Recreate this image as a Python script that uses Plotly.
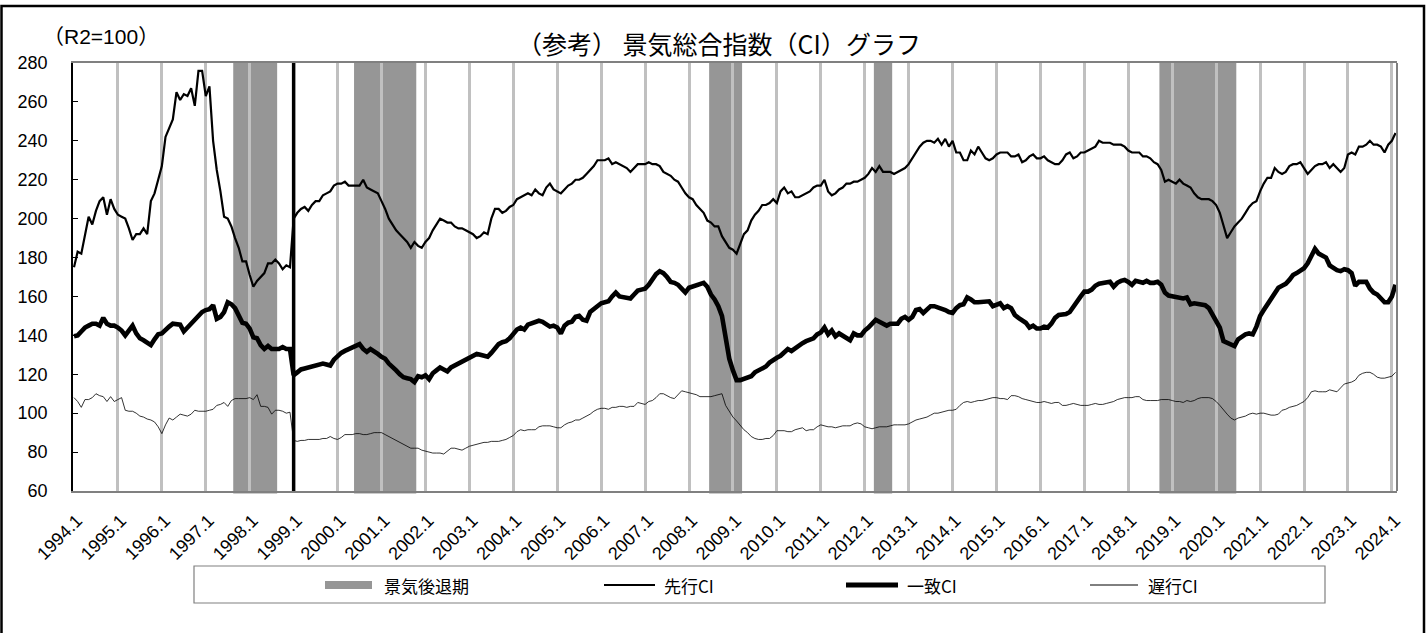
import plotly.graph_objects as go

# ---------------- data (monthly, 1994.1 - 2024.2) ----------------
leading_ci = [
    175, 183, 182, 192, 201, 197, 204, 209, 211, 202, 210, 205,   # 1994
    202, 201, 200, 195, 189, 192, 192, 195, 192, 209, 213, 220,   # 1995
    227, 242, 247, 251, 265, 261, 264, 263, 267, 258, 276, 276,   # 1996
    263, 268, 240, 225, 214, 201, 200, 196, 190, 185, 178, 178,   # 1997
    171, 165, 168, 170, 172, 177, 177, 179, 177, 174, 176, 175,   # 1998
    200, 203, 205, 206, 204, 207, 209, 209, 212, 213, 214, 217,   # 1999
    218, 218, 219, 217, 217, 217, 217, 220, 216, 215, 214, 213,   # 2000
    209, 205, 200, 197, 194, 192, 190, 188, 185, 188, 186, 185,   # 2001
    188, 190, 194, 197, 200, 199, 198, 198, 196, 195, 195, 194,   # 2002
    193, 192, 190, 191, 193, 192, 200, 205, 205, 203, 204, 206,   # 2003
    207, 210, 211, 212, 213, 212, 215, 213, 212, 216, 218, 215,   # 2004
    214, 213, 215, 217, 218, 220, 220, 221, 223, 225, 227, 230,   # 2005
    230, 230, 231, 228, 229, 228, 227, 226, 224, 226, 228, 228,   # 2006
    228, 229, 228, 228, 227, 224, 223, 222, 220, 219, 216, 213,   # 2007
    211, 210, 207, 205, 203, 199, 198, 196, 196, 191, 188, 185,   # 2008
    184, 182, 187, 192, 194, 199, 202, 204, 207, 207, 208, 210,   # 2009
    208, 214, 216, 213, 214, 211, 211, 212, 213, 214, 216, 217,   # 2010
    217, 220, 214, 212, 213, 215, 216, 218, 218, 219, 219, 220,   # 2011
    221, 223, 226, 224, 227, 224, 224, 224, 223, 224, 225, 226,   # 2012
    228, 231, 234, 237, 239, 240, 240, 239, 241, 238, 241, 237,   # 2013
    240, 234, 234, 230, 230, 235, 233, 237, 234, 231, 230, 231,   # 2014
    233, 234, 234, 234, 232, 232, 233, 229, 230, 232, 233, 231,   # 2015
    231, 232, 230, 229, 228, 228, 230, 233, 234, 231, 232, 234,   # 2016
    234, 235, 236, 237, 240, 239, 239, 239, 238, 238, 238, 237,   # 2017
    235, 234, 234, 234, 232, 232, 231, 229, 228, 225, 219, 220,   # 2018
    219, 218, 220, 218, 217, 216, 213, 211, 210, 210, 210, 209,   # 2019
    207, 203, 196, 190, 193, 196, 198, 200, 203, 206, 208, 209,   # 2020
    214, 218, 221, 221, 226, 224, 223, 224, 227, 228, 228, 229,   # 2021
    226, 223, 225, 227, 228, 228, 229, 226, 228, 226, 224, 226,   # 2022
    233, 234, 233, 237, 237, 238, 240, 238, 238, 237, 234, 238,   # 2023
    240, 244,                                                     # 2024
]

coincident_ci = [
    139.5, 140, 142, 144, 145, 146, 146, 145, 149, 146, 145, 145,
    144, 142.5, 140, 142.5, 145, 141, 138.5, 137.5, 136.5, 135, 138, 140.5,
    141, 143, 144.5, 146, 146, 145.5, 142, 144, 146, 148, 150, 152,
    153, 153.5, 155.5, 148.5, 149.5, 152, 157, 156, 154, 150, 146.5, 146,
    143.5, 139, 138.5, 135, 133, 134.5, 133, 133, 133, 134, 133, 133,
    119.5, 121, 122.5, 123, 123.5, 123.5, 124, 125, 125.5, 125, 124.5, 127.5,
    129.5, 131, 132, 133, 134, 135, 135.5, 133, 131.5, 133, 132, 130.5,
    129, 128, 125.5, 124, 122, 120, 118.5, 118, 117.5, 116, 119, 118.5,
    119.5, 117.5, 120.5, 122, 123.5, 122.5, 121.5, 123.5, 124.5, 125.5, 126.5, 127.5,
    129, 129.5, 130.5, 130, 129.5, 129, 131, 133.5, 135.5, 136.5, 137, 138.5,
    141, 143, 144, 143, 145.5, 146, 146.5, 147.5, 147, 146, 144.5, 145,
    144, 141, 145, 146.5, 147, 149.5, 150, 148, 147.5, 152, 153.5, 155,
    156.5, 157, 157.5, 160, 162, 160, 159.5, 159, 159, 161, 163, 163.5,
    164, 166, 169, 171.5, 173, 172, 170, 167.5, 167, 166, 164, 162,
    164.5, 165, 165.5, 166.5, 167, 165, 161, 158.5, 155, 150, 138, 128,
    122, 117, 117, 117.5, 118, 119, 121, 122, 123.5, 124, 126, 127.5,
    128.5, 129.5, 131, 133, 132, 133.5, 134.5, 136, 137, 137.5, 138.5, 140.5,
    141.5, 144, 140.5, 142.5, 139.5, 141, 140, 139, 137.5, 141, 140, 140,
    142.5, 144, 146, 148, 147, 146, 145, 146, 146, 146, 148.5, 149.5,
    148, 149.5, 153, 153.5, 151.5, 153.5, 155, 155, 154.5, 154, 153, 152,
    151.5, 154, 155.5, 156, 159.5, 158.5, 157, 157, 157, 157.5, 157.5, 155,
    156, 156.5, 154, 155, 154, 150.5, 149, 147.5, 146.5, 144, 145, 143.5,
    143.5, 144.5, 144, 146, 149, 150.5, 150.5, 151, 152, 155, 158, 160,
    162.5, 162.5, 163.5, 165.5, 166.5, 167, 167.5, 167.5, 165, 167, 168, 168.5,
    167.5, 166, 168, 167.5, 167, 168, 167, 167, 167.5, 166, 162, 160.5,
    160, 160, 159.5, 159, 159.5, 156, 156.5, 156, 155.5, 155.5, 154, 151,
    148, 144, 137, 136, 135.5, 134.5, 138, 139.5, 140.5, 141, 140.5, 144.5,
    150, 153, 156, 159.5, 162, 164.5, 165.5, 166.5, 168.5, 171, 172, 173,
    174.5, 177, 181.5, 184.5, 182, 181, 180, 176, 174.5, 173.5, 173, 174,
    173.5, 172, 165.5, 167.5, 167.5, 167.5, 164, 162, 161, 159, 157, 157,
    160, 166,
]

lagging_ci = [
    108, 106, 103, 107, 107, 108, 110, 109, 108.5, 106, 108.5, 106,
    107, 108, 101.5, 101, 101, 100, 98.5, 98, 97, 96.5, 95.5, 93,
    89.5, 94, 97.5, 96.5, 98, 99.5, 99, 98.5, 99.5, 101.5, 101, 101,
    101, 101.5, 102, 104, 104.5, 105.5, 103.5, 106.5, 107.5, 107.5, 107.5, 107.5,
    108, 107, 109.5, 103.5, 103.5, 103, 99.5, 101.5, 101.5, 101, 100, 100.5,
    86, 85.5, 86, 86, 86.5, 86.5, 86.5, 86.5, 87, 87, 88, 87,
    86.5, 87.5, 89, 89, 89, 89.5, 89.5, 89, 89, 89.5, 90, 90,
    90, 89, 88, 87, 86, 85, 84, 83, 82, 82, 82, 81,
    80.5, 80, 79.5, 79.5, 79.5, 79, 80.5, 82, 82, 81.5, 81, 82,
    83, 83.5, 84, 84.5, 85, 85, 85.5, 85.5, 85.5, 86, 86.5, 87.5,
    88.5, 90.5, 91.5, 91, 91.5, 91.5, 91.5, 93, 93.5, 93.5, 93.5, 93,
    92.5, 92.5, 94, 95, 95.5, 96.5, 96.5, 97.5, 98.5, 99.5, 101, 102,
    102.5, 102.5, 102, 103, 103, 103.5, 103.5, 103, 103.5, 103.5, 105.5, 105,
    104.5, 106, 106.5, 108, 110, 110, 109, 108, 107.5, 109.5, 111.5, 111,
    110.5, 110, 109.5, 108.5, 108.5, 108.5, 108.5, 109, 109.5, 110, 104, 101,
    98, 96, 93.5, 91.5, 90, 88, 87, 86.5, 86.5, 87, 87, 88.5,
    91, 91, 91, 90.5, 90.5, 91.5, 92, 92.5, 91, 91.5, 91.5, 93,
    94, 93.5, 93, 93, 92.5, 93, 93.5, 93.5, 93.5, 94.5, 95, 94.5,
    93, 92.5, 92, 92.5, 93, 93, 93, 93.5, 94, 94, 94, 94,
    94.5, 95.5, 96.5, 97, 97.5, 98, 99, 100, 100, 100.5, 101, 101.5,
    101.5, 102, 104, 105.5, 106, 105.5, 106, 106.5, 106.5, 107, 107.5, 108,
    108, 107.5, 107.5, 107, 109, 109, 108.5, 107.5, 107, 106.5, 106, 105.5,
    105.5, 106, 105.5, 105, 105.5, 105.5, 104, 104, 104.5, 105, 104.5, 104,
    104, 104, 104.5, 105, 104.5, 104.5, 105, 105.5, 106, 107, 107.5, 108,
    108, 108, 108.5, 108.5, 107, 106.5, 106.5, 106.5, 106.5, 107, 107, 107,
    106.5, 106, 106, 105.5, 106.5, 106, 106.5, 107.5, 108, 108, 108, 107.5,
    106, 104, 101.5, 99.5, 97.5, 96.5, 97.5, 98, 98.5, 99.5, 100, 99.5,
    100, 100, 99.5, 99, 99, 99.5, 101.5, 102, 103, 103.5, 104, 105,
    106, 108, 111, 111.5, 111, 111, 111, 112, 111.5, 111, 113, 115,
    115.5, 116, 117, 119.5, 120.5, 121, 121, 120, 118.5, 118, 118, 118.5,
    119, 121,
]

# month categories "1994.1" ... and the January tick labels
months = [f"{1994 + i // 12}.{i % 12 + 1}" for i in range(len(leading_ci))]
year_ticks = [m for m in months if m.endswith(".1") and len(m.split(".")[1]) == 1]

# recession (景気後退期) periods: first and last month
recessions = [("1997.9", "1998.8"), ("2000.6", "2001.10"), ("2008.7", "2009.3"),
              ("2012.4", "2012.8"), ("2018.10", "2020.6")]
series_break = "1999.1"

series_names = ["景気後退期", "先行CI", "一致CI", "遅行CI"]
title_text = "（参考） 景気総合指数（CI）グラフ"
unit_text = "（R2=100）"

# ---------------- layout geometry (page pixels) ----------------
W, H = 1428, 633
ML, MT = 73, 63
MR, MB = W - 1397, H - 491
PW, PH = W - ML - MR, H - MT - MB


def px(x):
    """page x pixel -> paper coordinate"""
    return (x - ML) / PW


def py(y):
    """page y pixel -> paper coordinate"""
    return (H - MB - y) / PH


FONT = "Liberation Sans, Arial, Noto Sans CJK JP, sans-serif"
CJK = "Noto Sans CJK JP, Liberation Sans, sans-serif"
SHADE = "#969696"

fig = go.Figure()
fig.add_trace(go.Scatter(x=months, y=lagging_ci, mode="lines", name=series_names[3],
                         line=dict(color="black", width=0.8), showlegend=False))
fig.add_trace(go.Scatter(x=months, y=leading_ci, mode="lines", name=series_names[1],
                         line=dict(color="black", width=2.2), showlegend=False))
fig.add_trace(go.Scatter(x=months, y=coincident_ci, mode="lines", name=series_names[2],
                         line=dict(color="black", width=4.6), showlegend=False))

shapes = []
for s, e in recessions:
    shapes.append(dict(type="rect", xref="x", yref="paper",
                       x0=months.index(s) - 0.5, x1=months.index(e) + 0.5,
                       y0=-0.006, y1=1, fillcolor=SHADE, line=dict(width=0),
                       layer="below"))
bi = months.index(series_break)
shapes.append(dict(type="line", xref="x", yref="paper", x0=bi, x1=bi, y0=0, y1=1,
                   line=dict(color="black", width=3.5), layer="above"))
# right edge of plot area
shapes.append(dict(type="line", xref="paper", yref="paper", x0=1, x1=1, y0=0, y1=1,
                   line=dict(color="#808080", width=2)))
# outer frame
shapes.append(dict(type="rect", xref="paper", yref="paper",
                   x0=px(1.5), x1=px(1424), y0=py(660), y1=py(6),
                   line=dict(color="black", width=2.5)))
# legend box
shapes.append(dict(type="rect", xref="paper", yref="paper",
                   x0=px(194), x1=px(1325), y0=py(603), y1=py(566),
                   line=dict(color="#808080", width=1.2)))
ly = py(585)
swatches = [(325, 372, SHADE, 8), (604, 655, "black", 2.2),
            (846, 898, "black", 5), (1090, 1138, "black", 1)]
text_x = [382, 662, 905, 1146]
annotations = []
for (a, b, c, w), tx, name in zip(swatches, text_x, series_names):
    shapes.append(dict(type="line", xref="paper", yref="paper", x0=px(a), x1=px(b),
                       y0=ly, y1=ly, line=dict(color=c, width=w)))
    annotations.append(dict(xref="paper", yref="paper", x=px(tx), y=ly, text=name,
                            showarrow=False, xanchor="left", yanchor="middle",
                            font=dict(family=CJK, size=17, color="black")))

annotations.append(dict(xref="paper", yref="paper", x=px(719), y=py(43), text=title_text,
                        showarrow=False, xanchor="center", yanchor="middle",
                        font=dict(family=CJK, size=25, color="black")))
annotations.append(dict(xref="paper", yref="paper", x=px(41), y=py(37), text=unit_text,
                        showarrow=False, xanchor="left", yanchor="middle",
                        font=dict(family=FONT, size=21, color="black")))

fig.update_layout(
    width=W, height=H,
    margin=dict(l=ML, r=MR, t=MT, b=MB, pad=0),
    paper_bgcolor="white", plot_bgcolor="white",
    showlegend=False,
    shapes=shapes, annotations=annotations,
    font=dict(family=FONT, color="black"),
    xaxis=dict(type="category", range=[-0.27, len(months) - 0.6],
               tickmode="array", tickvals=year_ticks, ticktext=year_ticks,
               tickangle=-45, tickfont=dict(size=18),
               showgrid=True, gridcolor="#C0C0C0", gridwidth=3,
               showline=True, linecolor="#808080", linewidth=2, mirror=True,
               ticks="", zeroline=False, ticklabelstandoff=10, ticklabelshift=3),
    yaxis=dict(range=[60, 280], tick0=60, dtick=20, tickfont=dict(size=18),
               showgrid=False, showline=True, linecolor="black", linewidth=1.5,
               ticks="inside", ticklen=5, tickcolor="black",
               ticklabelstandoff=20, zeroline=False),
)

# the page has a default 8px body margin; remove it so the figure sits at (0, 0)
fig.write_html("out.html", config={"displayModeBar": False},
               post_script="document.body.style.margin='0px';")
